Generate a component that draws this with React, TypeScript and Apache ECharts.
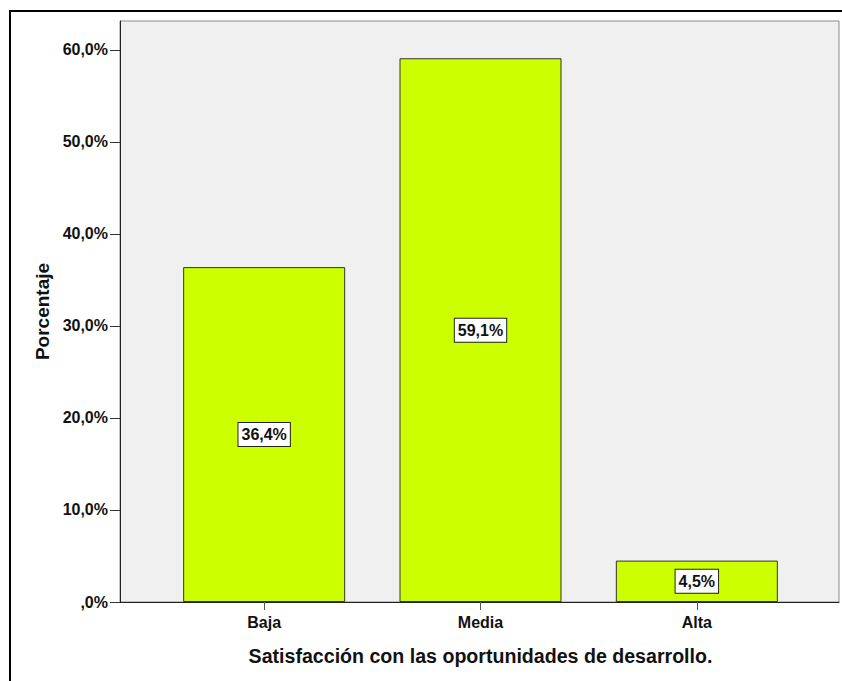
import React, { useEffect, useRef } from "react";
import * as echarts from "echarts";

const categories = ["Baja", "Media", "Alta"];
const values = [36.4, 59.1, 4.5];
const yTicks = [0, 10, 20, 30, 40, 50, 60];
const yMax = 63.15;
const xTitle = "Satisfacción con las oportunidades de desarrollo.";
const yTitle = "Porcentaje";

const fmt = (v: number) => (v === 0 ? ",0%" : v.toFixed(1).replace(".", ",") + "%");
const FONT = "'Liberation Sans', Arial, sans-serif";

export default function App() {
  const ref = useRef<HTMLDivElement>(null);
  useEffect(() => {
    if (!ref.current) return;
    const chart = echarts.init(ref.current, null, { renderer: "svg" });
    chart.setOption({
      animation: false,
      backgroundColor: "#ffffff",
      textStyle: { fontFamily: FONT },
      graphic: [
        {
          type: "rect",
          z: -10,
          shape: { x: 10, y: 11, width: 900, height: 900 },
          style: { fill: "none", stroke: "#000", lineWidth: 2 },
        },
      ],
      grid: [
        {
          left: 120,
          right: 3,
          top: 21,
          bottom: 79,
          show: true,
          backgroundColor: "#f0f0f0",
          borderColor: "#8a8a8a",
          borderWidth: 1,
        },
        { left: 156, right: 37, top: 21, bottom: 79 },
      ],
      xAxis: [
        {
          gridIndex: 0,
          type: "category",
          data: [""],
          axisLine: { show: true, lineStyle: { color: "#222", width: 1 } },
          axisTick: { show: false },
          axisLabel: { show: false },
          splitLine: { show: false },
        },
        {
          gridIndex: 1,
          type: "category",
          data: categories,
          axisLine: { show: false },
          axisTick: { show: true, alignWithLabel: true, length: 8, lineStyle: { color: "#555" } },
          axisLabel: { margin: 12, fontSize: 16, fontWeight: "bold", color: "#111", fontFamily: FONT },
          name: xTitle,
          nameLocation: "middle",
          nameGap: 44,
          nameTextStyle: { fontSize: 19.6, fontWeight: "bold", color: "#111", fontFamily: FONT },
        },
      ],
      yAxis: [
        {
          gridIndex: 0,
          type: "value",
          min: 0,
          max: yMax,
          axisLine: { show: true, lineStyle: { color: "#222", width: 1 } },
          axisTick: { show: true, length: 10, lineStyle: { color: "#333" }, customValues: yTicks },
          axisLabel: {
            margin: 12,
            fontSize: 16,
            fontWeight: "bold",
            color: "#111",
            fontFamily: FONT,
            customValues: yTicks,
            formatter: (v: number) => fmt(v),
          },
          splitLine: { show: false },
          name: yTitle,
          nameLocation: "middle",
          nameGap: 64,
          nameRotate: 90,
          nameTextStyle: { fontSize: 19, fontWeight: "bold", color: "#111", fontFamily: FONT },
        },
        {
          gridIndex: 1,
          type: "value",
          min: 0,
          max: yMax,
          show: false,
          splitLine: { show: false },
        },
      ],
      series: [
        {
          type: "bar",
          xAxisIndex: 1,
          yAxisIndex: 1,
          data: values,
          barWidth: 162,
          itemStyle: { color: "#ccff00", borderColor: "#333", borderWidth: 1 },
          label: {
            show: true,
            position: "inside",
            formatter: (p: any) => fmt(p.value),
            fontSize: 16,
            fontWeight: "bold",
            color: "#111",
            fontFamily: FONT,
            backgroundColor: "#ffffff",
            borderColor: "#222",
            borderWidth: 1,
            padding: [4, 3, 3, 3],
          },
        },
      ],
    });
    return () => chart.dispose();
  }, []);
  return (
    <div
      ref={ref}
      style={{ position: "absolute", left: 0, top: 0, width: 842, height: 681 }}
    />
  );
}
